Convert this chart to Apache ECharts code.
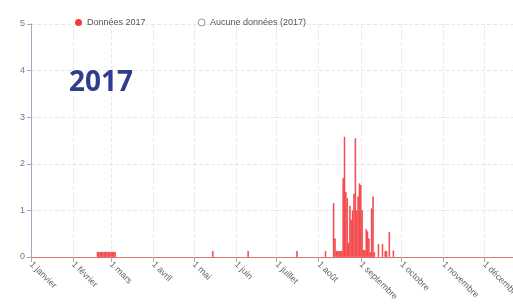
<!DOCTYPE html>
<html>
<head>
<meta charset="utf-8">
<script src="https://cdn.jsdelivr.net/npm/echarts@6/dist/echarts.min.js"></script>
<style>
  html, body { margin: 0; padding: 0; background: #fff; }
  #chart2017 { width: 513px; height: 307px; }
</style>
</head>
<body>
<div id="chart2017"></div>
<script>
// month tick labels and month lengths for 2017
const monthLabels = ['1 janvier', '1 février', '1 mars', '1 avril', '1 mai', '1 juin',
  '1 juillet', '1 août', '1 septembre', '1 octobre', '1 novembre', '1 décembre']
const monthLengths = [31, 28, 31, 30, 31, 30, 31, 31, 30, 31, 30, 31]

// days that have a value (all others are empty)
const dataDates = [
  '2017-02-19', '2017-02-20', '2017-02-21', '2017-02-22', '2017-02-23', '2017-02-24', '2017-02-25',
  '2017-02-26', '2017-02-27', '2017-02-28', '2017-03-01', '2017-03-02', '2017-03-03', '2017-03-04',
  '2017-05-15', '2017-06-10', '2017-07-16', '2017-08-06',
  '2017-08-12', '2017-08-13', '2017-08-14', '2017-08-15', '2017-08-16', '2017-08-17', '2017-08-18',
  '2017-08-19', '2017-08-20', '2017-08-21', '2017-08-22', '2017-08-23', '2017-08-24', '2017-08-25',
  '2017-08-26', '2017-08-27', '2017-08-28', '2017-08-29', '2017-08-30', '2017-08-31',
  '2017-09-01', '2017-09-02', '2017-09-03', '2017-09-04', '2017-09-05', '2017-09-06', '2017-09-07',
  '2017-09-08', '2017-09-09', '2017-09-10', '2017-09-11', '2017-09-14', '2017-09-17', '2017-09-19',
  '2017-09-20', '2017-09-22', '2017-09-25'
]
const dataValues = [
  0.11, 0.11, 0.11, 0.11, 0.11, 0.11, 0.11,
  0.11, 0.11, 0.11, 0.11, 0.11, 0.11, 0.11,
  0.13, 0.13, 0.13, 0.13,
  1.16, 0.4, 0.13, 0.13, 0.13, 0.13, 0.13,
  1.69, 2.58, 1.4, 1.26, 0.3, 1.1, 0.8,
  1.0, 1.36, 2.55, 1.0, 1.3, 1.58,
  1.55, 1.0, 0.15, 0.15, 0.6, 0.55, 0.4,
  0.1, 1.04, 1.3, 0.1, 0.28, 0.28, 0.13,
  0.13, 0.54, 0.14
]

// calendar of the year, one category per day
const days = []
const monthStart = {}
monthLengths.forEach(function(len, m) {
  for (let d = 1; d <= len; d++) {
    const key = '2017-' + String(m + 1).padStart(2, '0') + '-' + String(d).padStart(2, '0')
    if (d === 1) monthStart[days.length] = monthLabels[m]
    days.push(key)
  }
})
const isMonthStart = function(index) {
  return monthStart[index] !== undefined
}

const chart = echarts.init(document.getElementById('chart2017'))
chart.setOption({
  animation: false,
  title: {
    text: '2017',
    left: 64,
    top: 64,
    textStyle: {
      fontFamily: 'Open Sans',
      fontSize: 28,
      fontWeight: 'bold',
      color: '#303d8e'
    }
  },
  legend: {
    left: 70,
    top: 13,
    icon: 'circle',
    itemWidth: 7,
    itemHeight: 7,
    itemGap: 52,
    textStyle: { fontFamily: 'Liberation Sans', fontSize: 9, color: '#555' },
    data: [
      { name: 'Données 2017', itemStyle: { borderWidth: 0 } },
      { name: 'Aucune données (2017)', itemStyle: { color: '#fff', borderColor: '#777', borderWidth: 1 } }
    ]
  },
  grid: {
    left: 31,
    top: 24,
    width: 494,
    bottom: 50,
    outerBoundsMode: 'none'
  },
  xAxis: {
    type: 'category',
    data: days,
    boundaryGap: false,
    axisLine: { lineStyle: { color: '#e07373' } },
    axisTick: { interval: isMonthStart, length: 5, lineStyle: { color: '#aaa' } },
    axisLabel: {
      interval: isMonthStart,
      rotate: -45,
      margin: 6,
      fontFamily: 'Liberation Sans',
      fontSize: 9,
      color: '#666',
      formatter: function(value, index) {
        return monthStart[index] || ''
      }
    },
    splitLine: {
      show: true,
      interval: isMonthStart,
      lineStyle: { color: '#e8e8e8', type: 'dashed' }
    }
  },
  yAxis: {
    type: 'value',
    min: 0,
    max: 5,
    interval: 1,
    axisLine: { show: true, lineStyle: { color: '#9aabc0' } },
    axisTick: { show: true, length: 4, lineStyle: { color: '#9aabc0' } },
    axisLabel: { fontFamily: 'Liberation Sans', fontSize: 9, color: '#777', margin: 6 },
    splitLine: { lineStyle: { color: '#e8e8e8', type: 'dashed' } }
  },
  series: [
    {
      name: 'Données 2017',
      type: 'bar',
      barWidth: 1.4,
      itemStyle: { color: '#f23c3f', borderColor: '#f23c3f', borderWidth: 0.6 },
      data: dataDates.map(function(d, i) { return [d, dataValues[i]] })
    },
    {
      // legend entry only, no data for this year
      name: 'Aucune données (2017)',
      type: 'scatter',
      itemStyle: { color: '#fff', borderColor: '#777' },
      data: []
    }
  ]
})
</script>
</body>
</html>
